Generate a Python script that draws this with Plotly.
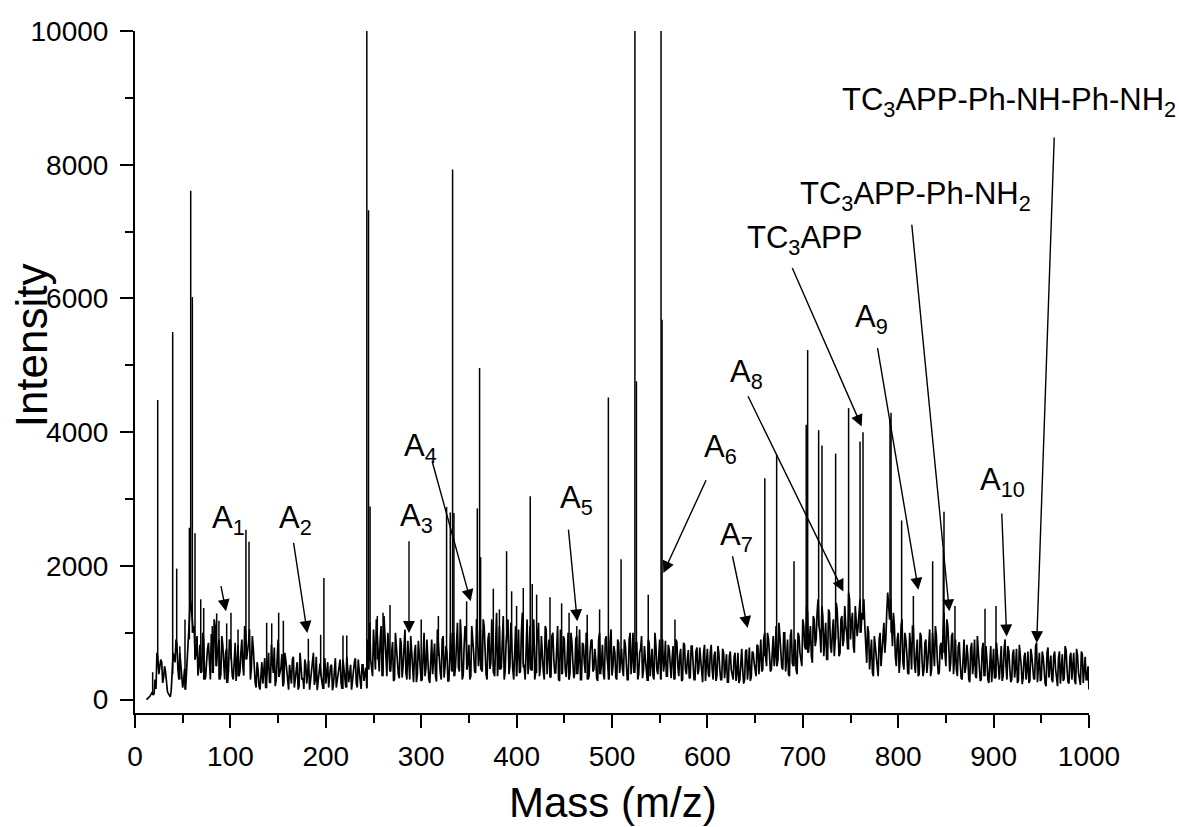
import plotly.graph_objects as go

# ---------------- data ----------------
# noise baseline, even m/z samples 12..1000
base_mass = list(range(12, 1001, 2))
base_int = [
    0, 20, 60, 110, 90, 160, 620, 480, 560, 330, 420, 120, 60, 140, 700, 560, 820, 300, 520, 180, 460, 380, 900, 1500, 1200,
    1100, 700, 360, 820, 420, 900, 330, 760, 540, 980, 400, 1100, 620, 900, 380, 820, 300, 760, 420, 880, 350, 700, 280, 820, 420,
    900, 360, 1000, 700, 1050, 480, 760, 250, 560, 200, 480, 240, 620, 300, 700, 260, 560, 780, 300, 900, 420, 680, 250, 600, 280,
    520, 240, 640, 300, 560, 200, 480, 320, 600, 240, 580, 300, 520, 220, 640, 280, 540, 260, 500, 240, 560, 300, 520, 230, 620,
    290, 540, 250, 600, 300, 640, 260, 520, 300, 560, 240, 600, 330, 520, 280, 480, 900, 1150, 500, 1050, 450, 980, 420, 1100, 480,
    900, 350, 820, 420, 860, 300, 780, 380, 920, 330, 760, 400, 880, 300, 740, 260, 820, 380, 700, 280, 760, 350, 900, 300, 720,
    380, 840, 270, 760, 400, 900, 330, 800, 280, 740, 420, 1000, 500, 1150, 420, 900, 360, 1100, 450, 820, 350, 950, 420, 1200, 500,
    1050, 420, 1100, 380, 900, 460, 1200, 400, 1000, 350, 1100, 480, 1250, 420, 1000, 380, 1150, 450, 900, 350, 1050, 420, 1300, 480, 950,
    380, 1100, 440, 1200, 400, 1000, 350, 950, 420, 1100, 380, 900, 330, 1000, 400, 880, 300, 1050, 380, 900, 340, 1000, 400, 850, 320,
    900, 380, 1050, 300, 820, 400, 980, 350, 880, 420, 760, 320, 900, 380, 820, 300, 950, 480, 880, 360, 800, 330, 900, 400, 760,
    350, 820, 300, 900, 380, 1000, 500, 850, 380, 760, 320, 800, 420, 900, 350, 760, 300, 820, 380, 900, 700, 420, 880, 350, 750,
    320, 800, 400, 860, 350, 760, 300, 820, 380, 740, 330, 800, 300, 720, 380, 780, 320, 700, 280, 760, 340, 820, 300, 720, 360,
    700, 300, 760, 320, 680, 260, 720, 330, 640, 280, 700, 300, 760, 240, 720, 300, 780, 340, 700, 400, 820, 380, 900, 450, 1000,
    500, 900, 420, 850, 500, 1100, 600, 950, 480, 1000, 420, 900, 350, 1050, 500, 900, 380, 950, 600, 1200, 800, 1400, 700, 1100, 550,
    1200, 900, 1500, 1000, 1400, 650, 1150, 600, 1300, 700, 1200, 900, 1350, 650, 1200, 800, 1400, 1000, 1600, 900, 1300, 700, 1200, 1100, 1500,
    1300, 1500, 800, 1100, 450, 900, 350, 800, 400, 900, 500, 1000, 700, 1300, 1400, 1500, 800, 1100, 500, 1000, 600, 1200, 450, 900, 400,
    1000, 450, 1100, 400, 900, 380, 950, 350, 850, 400, 900, 350, 1000, 500, 950, 380, 800, 600, 1300, 500, 1100, 420, 950, 380, 900,
    350, 860, 320, 780, 400, 820, 300, 760, 380, 900, 320, 720, 280, 760, 350, 800, 300, 700, 260, 760, 330, 720, 300, 800, 350,
    900, 300, 720, 260, 680, 330, 760, 280, 700, 230, 640, 300, 720, 280, 660, 320, 800, 260, 700, 300, 640, 240, 700, 330, 660,
    260, 720, 300, 620, 240, 680, 320, 740, 260, 640, 300, 700, 230, 660, 310, 720, 250, 640, 300, 150,
]

# noise baseline, odd m/z samples; row k starts at m/z 13 + 50k, step 2
odd_row_start = [13, 63, 113, 163, 213, 263, 313, 363, 413, 463, 513, 563, 613, 663, 713, 763, 813, 863, 913, 963]
odd_rows = [
    [10, 40, 90, 70, 300, 700, 380, 600, 250, 500, 260, 90, 40, 380, 620, 900, 450, 700, 250, 300, 150, 600, 1200, 1400, 1000],
    [600, 950, 500, 400, 1000, 300, 650, 850, 300, 700, 1200, 500, 800, 300, 950, 550, 700, 250, 900, 600, 300, 850, 500, 350, 700],
    [500, 1100, 600, 850, 300, 950, 400, 180, 450, 150, 560, 420, 170, 500, 250, 820, 400, 200, 650, 340, 480, 200, 700, 400, 150],
    [400, 600, 180, 450, 150, 700, 300, 160, 520, 400, 150, 460, 700, 300, 140, 480, 360, 160, 620, 420, 180, 500, 140, 440, 180],
    [460, 600, 160, 420, 180, 500, 380, 150, 460, 620, 180, 440, 160, 520, 380, 170, 450, 600, 350, 700, 1200, 600, 900, 350, 1250],
    [600, 1000, 450, 700, 280, 1000, 600, 320, 850, 500, 1050, 300, 650, 950, 400, 700, 260, 880, 550, 300, 1000, 480, 650, 250, 900],
    [550, 350, 1050, 650, 300, 950, 500, 700, 280, 1000, 600, 350, 900, 480, 1200, 300, 800, 1000, 550, 300, 1100, 700, 400, 1000, 650],
    [450, 1200, 700, 300, 1000, 550, 800, 350, 1300, 600, 450, 1000, 300, 850, 1200, 500, 750, 300, 1100, 650, 400, 1000, 550, 300, 1200],
    [600, 450, 1000, 300, 800, 1150, 500, 650, 300, 1050, 700, 350, 950, 600, 400, 1100, 280, 750, 950, 450, 600, 300, 1000, 550, 400],
    [950, 600, 300, 850, 550, 1000, 300, 700, 900, 450, 600, 280, 1000, 550, 380, 900, 600, 300, 1050, 500, 700, 300, 850, 600, 450],
    [900, 550, 300, 1000, 600, 400, 850, 300, 700, 950, 450, 600, 280, 850, 550, 350, 1000, 450, 650, 300, 900, 550, 350, 820, 450],
    [600, 300, 900, 500, 650, 280, 850, 450, 600, 320, 800, 550, 300, 780, 450, 600, 260, 820, 500, 380, 700, 450, 650, 280, 800],
    [450, 300, 700, 500, 260, 650, 450, 300, 700, 400, 250, 680, 450, 300, 750, 500, 280, 720, 550, 350, 800, 600, 420, 900, 650],
    [1000, 700, 450, 950, 650, 500, 1150, 700, 450, 1000, 600, 380, 950, 550, 800, 450, 1000, 700, 500, 1100, 750, 1300, 950, 650, 1250],
    [800, 1300, 1100, 700, 1250, 900, 600, 1350, 800, 1000, 650, 1450, 1000, 700, 1250, 900, 1100, 750, 1500, 1150, 800, 1400, 950, 1300, 1000],
    [1200, 1100, 550, 1000, 700, 400, 950, 600, 350, 1000, 750, 1150, 900, 1600, 1200, 1000, 1300, 650, 900, 400, 1100, 550, 1000, 700, 380],
    [800, 1100, 550, 700, 350, 1000, 600, 450, 900, 550, 1050, 450, 750, 1100, 600, 400, 850, 1000, 700, 1200, 800, 550, 1000, 600, 450],
    [800, 550, 300, 900, 500, 650, 260, 850, 550, 350, 950, 500, 300, 850, 450, 600, 250, 800, 480, 320, 850, 500, 650, 280, 750],
    [500, 800, 450, 300, 750, 480, 250, 820, 500, 330, 700, 450, 250, 760, 400, 300, 850, 500, 280, 720, 450, 200, 780, 500, 300],
    [650, 450, 200, 720, 480, 280, 800, 450, 240, 700, 500, 280, 760, 400, 220, 680, 450, 300, 500],
]

# discrete peaks (m/z, intensity)
peak_mass = [18.5, 23.8, 39.5, 43.7, 47.0, 52.4, 57.0, 58.4, 60.1, 62.9, 68.9, 72.0, 81.0, 85.6, 88.0, 96.1, 100.6,
             108.0, 116.3, 119.5, 138.0, 143.3, 150.6, 155.5, 181.7, 194.6, 198.0, 218.0, 222.0,
             243.0, 244.8, 246.4, 254.0, 260.0, 267.3, 300.0, 318.0, 326.6, 330.5, 332.9, 334.3, 347.6, 358.8, 361.2, 362.3,
             375.6, 382.0, 389.5, 394.8, 400.0, 407.0, 414.3, 416.4, 421.0, 435.0, 447.2, 455.0, 463.0, 474.0,
             487.0, 496.2, 509.5, 524.0, 525.6, 538.0, 551.4, 552.5, 566.0,
             660.2, 672.6, 690.8, 703.6, 705.1, 716.6, 720.1, 734.4, 748.0, 760.0, 763.1, 791.4, 792.5,
             803.6, 815.9, 836.1, 847.3, 848.0, 859.5, 891.0, 902.5]
peak_int = [410, 4480, 5500, 1960, 800, 1200, 2570, 7610, 6020, 2490, 1500, 1370, 1100, 1290, 1180, 1140, 1300,
            1050, 2540, 2360, 1150, 1140, 1300, 1180, 910, 970, 1820, 960, 960,
            10500, 7320, 2890, 1250, 1300, 1415, 1200, 1250, 2880, 2800, 7930, 2790, 1470, 2860, 4960, 2130,
            1660, 1350, 2220, 1620, 1400, 1670, 3040, 1730, 1570, 1530, 1440, 1300, 1100, 1270,
            1350, 4520, 2100, 10500, 4760, 1570, 10500, 5680, 1200,
            3310, 3660, 2070, 4110, 5230, 4030, 3800, 3680, 4360, 3860, 4000, 4210, 4290,
            2680, 1550, 2070, 2240, 2810, 1400, 1360, 1400]

# labels: text, left m/z, y of cap centre
label_text = ["A<sub>1</sub>", "A<sub>2</sub>", "A<sub>3</sub>", "A<sub>4</sub>", "A<sub>5</sub>",
              "A<sub>6</sub>", "A<sub>7</sub>", "A<sub>8</sub>", "A<sub>9</sub>", "A<sub>10</sub>",
              "TC<sub>3</sub>APP", "TC<sub>3</sub>APP-Ph-NH<sub>2</sub>",
              "TC<sub>3</sub>APP-Ph-NH-Ph-NH<sub>2</sub>"]
label_x = [78.6, 148.5, 276.0, 279.5, 443.7, 594.0, 611.5, 622.0, 753.0, 883.3, 639.4, 695.3, 739.0]
label_y = [2743, 2750, 2780, 3826, 3039, 3812, 2491, 4933, 5750, 3313, 6936, 7598, 8994]

# arrows: tail (x, y) -> head (x, y)
arrow_tail_x = [89.8, 166.0, 287.2, 311.0, 454.2, 599.3, 626.0, 641.8, 778.1, 908.5, 688.3, 814.1, 963.6]
arrow_tail_y = [1720, 2366, 2392, 3587, 2566, 3303, 2167, 4559, 5281, 2806, 6477, 7125, 8430]
arrow_head_x = [95.4, 180.6, 287.2, 351.9, 463.6, 553.8, 642.2, 742.5, 821.1, 913.7, 761.7, 853.6, 945.2]
arrow_head_y = [1320, 997, 997, 1470, 1171, 1894, 1071, 1619, 1644, 946, 4086, 1320, 847]

x_ticks = [0, 100, 200, 300, 400, 500, 600, 700, 800, 900, 1000]
y_ticks = [0, 2000, 4000, 6000, 8000, 10000]

# ---------------- build spectrum ----------------
samples = list(zip(base_mass, base_int))
for start, row in zip(odd_row_start, odd_rows):
    for i, v in enumerate(row):
        samples.append((start + 2 * i, v))
samples.sort()
noise_x = [s[0] for s in samples]
noise_y = [s[1] for s in samples]

stick_x, stick_y = [], []
for m, h in zip(peak_mass, peak_int):
    near = [v for sm, v in samples if abs(sm - m) <= 1]
    foot = min(near) if near else 0
    stick_x += [m, m, None]
    stick_y += [foot, h, None]

FONT = "Liberation Sans, Arial, sans-serif"

fig = go.Figure()
fig.add_trace(go.Scatter(x=noise_x, y=noise_y, mode="lines",
                         line=dict(color="black", width=1.7), hoverinfo="skip", showlegend=False))
fig.add_trace(go.Scatter(x=stick_x, y=stick_y, mode="lines",
                         line=dict(color="black", width=1.5), hoverinfo="skip", showlegend=False))

annotations = []
for t, x, y in zip(label_text, label_x, label_y):
    annotations.append(dict(x=x, y=y, xref="x", yref="y", text=t, showarrow=False,
                            xanchor="left", yanchor="middle", yshift=-4,
                            font=dict(family=FONT, size=31, color="black")))
for tx, ty, hx, hy in zip(arrow_tail_x, arrow_tail_y, arrow_head_x, arrow_head_y):
    annotations.append(dict(x=hx, y=hy, ax=tx, ay=ty, xref="x", yref="y", axref="x", ayref="y",
                            text="", showarrow=True, arrowhead=2, arrowsize=1.7, arrowwidth=1.4,
                            arrowcolor="black", standoff=0, startstandoff=0))
annotations.append(dict(x=-0.1076, y=0.5396, xref="paper", yref="paper", text="Intensity",
                        showarrow=False, textangle=-90, xanchor="center", yanchor="middle",
                        font=dict(family=FONT, size=44, color="black")))
annotations.append(dict(x=0.5013, y=-0.131, xref="paper", yref="paper", text="Mass (m/z)",
                        showarrow=False, xanchor="center", yanchor="middle",
                        font=dict(family=FONT, size=42, color="black")))

fig.update_layout(
    width=1179, height=827,
    margin=dict(l=135, r=90, t=31, b=114),
    paper_bgcolor="white", plot_bgcolor="white",
    font=dict(family=FONT, color="black"),
    annotations=annotations,
    showlegend=False,
)
fig.update_xaxes(range=[0, 1000], tickvals=x_ticks, ticktext=[str(v) for v in x_ticks],
                 showgrid=False, zeroline=False, showline=True, linecolor="black", linewidth=2,
                 ticks="outside", ticklen=13, tickwidth=2, tickcolor="black",
                 tickfont=dict(family=FONT, size=28, color="black"), ticklabelstandoff=4,
                 minor=dict(dtick=50, ticks="outside", ticklen=8, tickwidth=2, tickcolor="black", showgrid=False))
fig.update_yaxes(range=[-200, 10000], tickvals=y_ticks, ticktext=[str(v) for v in y_ticks],
                 showgrid=False, zeroline=False, showline=True, linecolor="black", linewidth=2,
                 ticks="outside", ticklen=13, tickwidth=2, tickcolor="black",
                 tickfont=dict(family=FONT, size=28, color="black"), ticklabelstandoff=6,
                 minor=dict(tickvals=[1000, 3000, 5000, 7000, 9000], ticks="outside", ticklen=8,
                            tickwidth=2, tickcolor="black", showgrid=False))

fig.write_html("out.html", config={"displayModeBar": False},
               post_script="document.body.style.margin='0';")
